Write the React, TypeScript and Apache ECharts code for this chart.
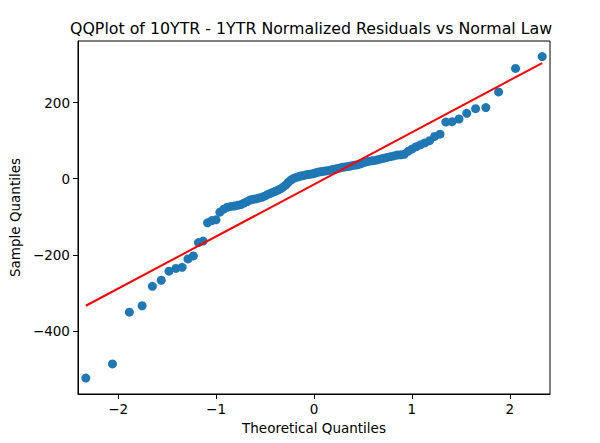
import React, { useEffect, useRef } from "react";
import * as echarts from "echarts";

const theoretical: number[] = [
  -2.330, -2.058, -1.885, -1.755, -1.650, -1.560, -1.481, -1.410, -1.346, -1.287,
  -1.232, -1.180, -1.132, -1.087, -1.043, -1.001, -0.961, -0.922, -0.885, -0.849,
  -0.814, -0.780, -0.746, -0.714, -0.682, -0.651, -0.621, -0.591, -0.562, -0.533,
  -0.505, -0.477, -0.449, -0.422, -0.395, -0.368, -0.342, -0.316, -0.290, -0.264,
  -0.238, -0.213, -0.187, -0.162, -0.137, -0.112, -0.087, -0.062, -0.037, -0.012,
  0.012, 0.037, 0.062, 0.087, 0.112, 0.137, 0.162, 0.187, 0.213, 0.238,
  0.264, 0.290, 0.316, 0.342, 0.368, 0.395, 0.422, 0.449, 0.477, 0.505,
  0.533, 0.562, 0.591, 0.621, 0.651, 0.682, 0.714, 0.746, 0.780, 0.814,
  0.849, 0.885, 0.922, 0.961, 1.001, 1.043, 1.087, 1.132, 1.180, 1.232,
  1.287, 1.346, 1.410, 1.481, 1.560, 1.650, 1.755, 1.885, 2.058, 2.330,
];

const sample: number[] = [
  -524, -487, -351, -334, -283, -267, -243, -236, -233, -211,
  -203, -168, -164, -116, -110, -108, -88, -80, -75, -73,
  -72, -70, -68, -64, -60, -56, -54, -53, -51, -49,
  -46, -42, -39, -36, -33, -30, -27, -22, -17, -10,
  -4, 0, 3, 5, 7, 8, 10, 11, 12, 13,
  15, 17, 18, 19, 20, 21, 22, 24, 25, 27,
  28, 30, 31, 32, 33, 35, 36, 37, 39, 42,
  44, 46, 47, 48, 50, 52, 54, 56, 58, 60,
  62, 63, 64, 72, 78, 84, 89, 94, 100, 111,
  117, 149, 150, 157, 172, 184, 187, 228, 290, 321,
];

const lineX: number[] = [-2.33, 2.33];
const lineY: number[] = [-334, 304];

const xTicks: number[] = [-2, -1, 0, 1, 2];
const yTicks: number[] = [-400, -200, 0, 200];

const fmt = (v: number) => String(v).replace("-", "\u2212");

export default function App() {
  const ref = useRef<HTMLDivElement>(null);
  useEffect(() => {
    if (!ref.current) return;
    const chart = echarts.init(ref.current, undefined, { renderer: "svg" });
    const font = "DejaVu Sans";
    chart.setOption({
      animation: false,
      backgroundColor: "#ffffff",
      title: {
        text: "QQPlot of 10YTR - 1YTR Normalized Residuals vs Normal Law",
        left: 65,
        top: 15,
        textStyle: { fontFamily: font, fontSize: 15.8, fontWeight: "normal", color: "#000" },
      },
      grid: {
        left: 76,
        right: 50,
        top: 41,
        bottom: 49,
        show: true,
        borderColor: "#000",
        borderWidth: 1,
        backgroundColor: "transparent",
      },
      xAxis: {
        type: "value",
        min: -2.41,
        max: 2.41,
        name: "Theoretical Quantiles",
        nameLocation: "middle",
        nameGap: 27,
        nameTextStyle: { fontFamily: font, fontSize: 13.5, color: "#000", verticalAlign: "top" },
        axisLine: { show: true, onZero: false, lineStyle: { color: "#000", width: 1 } },
        splitLine: { show: false },
        axisTick: {
          show: true,
          inside: false,
          length: 5,
          lineStyle: { color: "#000" },
          customValues: xTicks,
        },
        axisLabel: {
          fontFamily: font,
          fontSize: 13.5,
          color: "#000",
          margin: 8,
          customValues: xTicks,
          formatter: (v: number) => fmt(v),
        },
      },
      yAxis: {
        type: "value",
        min: -566,
        max: 362,
        name: "Sample Quantiles",
        nameLocation: "middle",
        nameGap: 52,
        nameRotate: 90,
        nameTextStyle: { fontFamily: font, fontSize: 13.5, color: "#000" },
        axisLine: { show: true, onZero: false, lineStyle: { color: "#000", width: 1 } },
        splitLine: { show: false },
        axisTick: {
          show: true,
          inside: false,
          length: 5,
          lineStyle: { color: "#000" },
          customValues: yTicks,
        },
        axisLabel: {
          fontFamily: font,
          fontSize: 13.5,
          color: "#000",
          margin: 8,
          customValues: yTicks,
          formatter: (v: number) => fmt(v),
        },
      },
      series: [
        {
          type: "scatter",
          data: theoretical.map((x, i) => [x, sample[i]]),
          symbol: "circle",
          symbolSize: 9,
          itemStyle: { color: "#1f77b4", opacity: 1 },
          z: 2,
        },
        {
          type: "line",
          data: lineX.map((x, i) => [x, lineY[i]]),
          symbol: "none",
          lineStyle: { color: "#ff0000", width: 2 },
          z: 3,
        },
      ],
    });
    return () => chart.dispose();
  }, []);
  return (
    <div
      ref={ref}
      style={{ position: "absolute", left: 0, top: 0, width: 600, height: 443 }}
    />
  );
}
